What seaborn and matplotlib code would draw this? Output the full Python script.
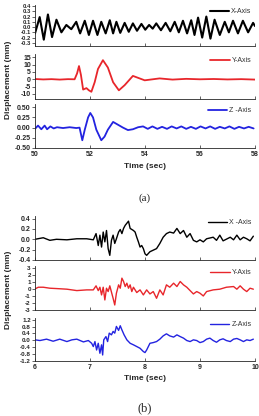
import pandas as pd
import seaborn as sns
import matplotlib.pyplot as plt

# ---- data ----
# (a) 50-58 s
ax_t = [50.00, 50.17, 50.32, 50.47, 50.62, 50.78, 50.96, 51.14, 51.32, 51.50, 51.64, 51.81,
        51.96, 52.11, 52.27, 52.41, 52.57, 52.72, 52.84, 52.96, 53.10, 53.26, 53.41, 53.56,
        53.71, 53.87, 54.01, 54.15, 54.28, 54.41, 54.58, 54.75, 54.92, 55.08, 55.23, 55.38,
        55.53, 55.68, 55.80, 55.93, 56.08, 56.23, 56.38, 56.53, 56.72, 56.90, 57.05, 57.20,
        57.38, 57.56, 57.75, 57.93, 58.00]
ax_v = [-0.12, 0.19, -0.24, 0.24, -0.19, 0.14, -0.10, 0.04, -0.04, 0.10, -0.12, 0.12,
        -0.15, 0.12, -0.15, 0.10, -0.12, 0.13, -0.12, 0.10, -0.11, 0.08, -0.09, 0.07,
        -0.07, 0.06, -0.05, 0.04, -0.03, 0.07, -0.06, 0.08, -0.08, 0.10, -0.10, 0.12,
        -0.12, 0.13, -0.15, 0.18, -0.20, 0.20, -0.22, 0.14, -0.15, 0.10, -0.10, 0.12,
        -0.12, 0.12, -0.10, 0.08, 0.02]

ay_t = [50.0, 50.3, 50.6, 50.9, 51.2, 51.44, 51.53, 51.60, 51.67, 51.75, 51.87, 51.96, 52.05,
        52.17, 52.29, 52.47, 52.65, 52.84, 53.05, 53.26, 53.56, 53.99, 54.53, 55.0, 55.5,
        56.0, 56.5, 57.0, 57.5, 58.0]
ay_v = [0.2, -0.1, 0.1, -0.2, 0.1, 0.0, 4.0, 9.0, 3.0, -7.0, -6.0, -7.5, -8.5,
        -2.0, 7.0, 13.0, 8.0, -2.0, -7.5, -4.0, 2.3, -0.7, 0.6, -0.2, 0.3,
        0.0, 0.2, -0.1, 0.1, -0.2]

az_t = [50.00, 50.11, 50.23, 50.35, 50.44, 50.56, 50.68, 50.80, 51.02, 51.26, 51.50, 51.62,
        51.72, 51.81, 51.93, 52.01, 52.11, 52.23, 52.41, 52.53, 52.65, 52.84, 53.02, 53.20,
        53.38, 53.56, 53.75, 53.93, 54.10, 54.27, 54.45, 54.62, 54.80, 54.97, 55.15, 55.32,
        55.50, 55.67, 55.85, 56.02, 56.20, 56.37, 56.55, 56.72, 56.90, 57.07, 57.25, 57.42,
        57.60, 57.77, 57.95]
az_v = [-0.03, 0.05, -0.04, 0.05, -0.04, 0.03, -0.02, 0.01, -0.01, 0.01, -0.01, 0.00,
        -0.31, -0.05, 0.25, 0.36, 0.25, -0.05, -0.31, -0.22, -0.05, 0.14, 0.07, 0.00,
        -0.06, -0.04, 0.01, 0.03, -0.03, 0.03, -0.03, 0.02, -0.03, 0.03, -0.02, 0.03,
        -0.03, 0.02, -0.03, 0.03, -0.02, 0.03, -0.03, 0.02, -0.02, 0.03, -0.03, 0.02,
        -0.02, 0.02, -0.02]

# (b) 6-10 s
bx_t = [6.00, 6.15, 6.27, 6.39, 6.58, 6.76, 6.94, 7.06,
        7.11, 7.15, 7.18, 7.21, 7.24, 7.27, 7.30, 7.33, 7.36, 7.39, 7.42, 7.45, 7.48, 7.52,
        7.55, 7.58, 7.61, 7.64, 7.67, 7.70, 7.73, 7.76, 7.79, 7.82, 7.85, 7.88, 7.91, 7.94,
        7.97, 8.00, 8.03,
        8.09, 8.15, 8.21, 8.27, 8.33, 8.39, 8.45, 8.52, 8.58, 8.64, 8.70, 8.76, 8.82, 8.88,
        8.94, 9.00, 9.06, 9.12, 9.24, 9.30, 9.36, 9.42, 9.55, 9.61, 9.67, 9.73, 9.79, 9.85,
        9.91, 9.97]
bx_v = [0.00, 0.03, -0.02, 0.00, -0.01, 0.01, 0.01, -0.01,
        0.11, -0.12, 0.08, -0.15, 0.14, -0.05, 0.17, -0.18, -0.31, -0.02, 0.08, -0.08, 0.01, 0.14,
        0.19, 0.11, 0.21, 0.27, 0.31, 0.35, 0.21, 0.19, 0.17, 0.14, 0.04, -0.05, -0.15, -0.12,
        -0.18, -0.28, -0.31,
        -0.24, -0.21, -0.18, -0.08, 0.04, 0.11, 0.14, 0.12, 0.21, 0.11, 0.17, 0.04, 0.11, -0.02,
        -0.05, -0.01, -0.05, 0.01, 0.04, -0.02, 0.08, -0.03, 0.04, -0.01, 0.08, -0.01, 0.04, 0.01,
        -0.03, 0.06]

by_t = [6.00, 6.06, 6.15, 6.27, 6.39, 6.58, 6.76, 6.94, 7.06,
        7.11, 7.15, 7.18, 7.21, 7.24, 7.27, 7.30, 7.33, 7.36,
        7.42, 7.45, 7.48, 7.52, 7.55, 7.58, 7.61, 7.64, 7.67, 7.70, 7.73, 7.76, 7.79,
        7.85, 7.91, 7.97, 8.03, 8.09, 8.15, 8.21, 8.27, 8.33, 8.39, 8.45, 8.52, 8.58, 8.64,
        8.70, 8.76, 8.82, 8.88, 8.94, 9.00, 9.06, 9.12,
        9.24, 9.36, 9.48, 9.61, 9.67, 9.73, 9.79, 9.85, 9.91, 9.97]
by_v = [0.02, 0.26, 0.26, 0.12, 0.07, -0.02, -0.22, -0.12, -0.12,
        0.46, -0.22, 0.26, -0.84, 0.26, -1.56, 0.12, -0.36, 0.46,
        -1.32, -2.28, -0.60, 0.60, 0.12, 1.56, 1.08, 0.36, 0.84, 0.12, 0.60, -0.36, 0.26,
        -0.50, -0.12, -0.84, -0.12, -0.70, -0.36, -1.32, -0.12, -0.84, 0.60, 0.26, 0.84, 0.36, 1.08,
        0.60, 0.26, -0.22, -0.70, -0.36, -0.60, -0.99, -0.36,
        -0.12, -0.02, 0.26, 0.36, -0.02, 0.46, -0.02, -0.36, 0.12, -0.02]

bz_t = [6.00, 6.09, 6.21, 6.33, 6.45, 6.58, 6.67, 6.76, 6.88, 6.97,
        7.03, 7.06, 7.09, 7.12, 7.15, 7.18, 7.21, 7.23, 7.25, 7.29,
        7.32, 7.35, 7.39, 7.42, 7.45, 7.48, 7.52, 7.55, 7.58, 7.62,
        7.67, 7.73, 7.79, 7.85, 7.91, 7.97, 8.00, 8.03,
        8.09, 8.15, 8.21, 8.27, 8.33, 8.39, 8.45, 8.52, 8.58, 8.64,
        8.70, 8.76, 8.82, 8.88, 8.94, 9.00, 9.06, 9.12, 9.18, 9.24,
        9.30, 9.36, 9.42, 9.48, 9.55, 9.61, 9.67, 9.73, 9.79, 9.85,
        9.91, 9.97]
bz_v = [0.03, -0.01, 0.07, -0.05, 0.07, -0.07, 0.03, 0.07, -0.09, -0.01,
        -0.17, -0.36, -0.07, -0.56, -0.17, -0.75, -0.26, -0.85, 0.03, 0.22,
        -0.07, 0.42, 0.32, 0.52, 0.42, 0.81, 0.58, 0.85, 0.61, 0.32,
        0.03, -0.17, -0.26, -0.36, -0.46, -0.65, -0.71, -0.56,
        -0.17, -0.13, -0.07, 0.07, 0.26, 0.38, 0.26, 0.19, 0.32, 0.22,
        0.13, -0.01, -0.07, 0.03, -0.01, -0.13, -0.07, 0.07, 0.13, -0.01,
        -0.11, 0.03, 0.09, -0.01, -0.07, 0.07, 0.11, 0.03, -0.07, 0.03,
        -0.01, 0.07]

a_xticks = [50, 52, 54, 56, 58]
b_xticks = [6, 7, 8, 9, 10]

# ---- style ----
sns.set_style('ticks')
plt.rcParams['font.family'] = ['Liberation Sans', 'DejaVu Sans']
plt.rcParams['font.weight'] = 'bold'
plt.rcParams['axes.linewidth'] = 0.6

W, H = 259, 416
fig = plt.figure(figsize=(W / 100, H / 100), dpi=100)


def panel(top, bottom, t, v, color, label, ylim, yticks, fmt, xlim, xticks, lw, show_x, ysize=5):
    ax = fig.add_axes([35 / W, 1 - bottom / H, 220 / W, (bottom - top) / H])
    df = pd.DataFrame({'t': t, 'v': v})
    sns.lineplot(data=df, x='t', y='v', color=color, lw=lw, label=label,
                 estimator=None, ax=ax)
    for ln in ax.lines:
        ln.set_solid_joinstyle('round')
    ax.set_xlim(*xlim)
    ax.set_ylim(*ylim)
    ax.set_yticks(yticks)
    ax.set_yticklabels([fmt.format(y) for y in yticks])
    ax.set_xticks(xticks)
    if show_x:
        ax.set_xticklabels([str(x) for x in xticks])
    else:
        ax.set_xticklabels([])
    ax.set_xlabel('')
    ax.set_ylabel('')
    sns.despine(ax=ax)
    ax.tick_params(axis='y', labelsize=ysize, length=2, width=0.5, pad=1)
    ax.tick_params(axis='x', labelsize=5, length=2.5, width=0.5, pad=2, direction='in')
    leg = ax.legend(loc='upper right', frameon=False, fontsize=5, handlelength=2.8,
                    handletextpad=0.3, borderaxespad=0.1)
    for txt in leg.get_texts():
        txt.set_color('#333333')
        txt.set_fontweight('normal')
    return ax


# (a)
panel(5, 46, ax_t, ax_v, 'black', 'X-Axis', (-0.36, 0.42),
      [0.4, 0.3, 0.2, 0.1, 0.0, -0.1, -0.2, -0.3], '{:.1f}', (50, 58), a_xticks, 1.5, False, 4.2)
panel(54, 98.7, ay_t, ay_v, '#e8262b', 'Y-Axis', (-13.2, 17.2),
      [15, 10, 5, 0, -5, -10], '{:d}', (50, 58), a_xticks, 1.3, False)
panel(104, 148, az_t, az_v, '#2323e0', 'Z -Axis', (-0.5, 0.58),
      [0.5, 0.25, 0.0, -0.25, -0.5], '{:.2f}', (50, 58), a_xticks, 1.3, True)

# (b)
panel(216, 260, bx_t, bx_v, 'black', 'X -Axis', (-0.4, 0.45),
      [0.4, 0.2, 0.0, -0.2, -0.4], '{:.1f}', (6, 10), b_xticks, 1.0, False)
panel(266, 310, by_t, by_v, '#e8262b', 'Y-Axis', (-3, 3.3),
      [3, 2, 1, 0, -1, -2, -3], '{:d}', (6, 10), b_xticks, 1.0, False, 4.5)
panel(318, 361, bz_t, bz_v, '#2323e0', 'Z-Axis', (-1.2, 1.3),
      [1.2, 0.8, 0.4, 0.0, -0.4, -0.8, -1.2], '{:.1f}', (6, 10), b_xticks, 1.0, True, 4.5)

# shared labels
for yc in (80, 290):
    fig.text(9 / W, 1 - yc / H, 'Displacement (mm)', rotation=90, ha='center', va='center',
             fontsize=6, fontweight='bold')
fig.text(145 / W, 1 - 167 / H, 'Time (sec)', ha='center', va='center', fontsize=6, fontweight='bold')
fig.text(145 / W, 1 - 379 / H, 'Time (sec)', ha='center', va='center', fontsize=6, fontweight='bold')
fig.text(145 / W, 1 - 198 / H, '(a)', ha='center', va='center', fontsize=8,
         family='Liberation Serif', fontweight='normal')
fig.text(145 / W, 1 - 408 / H, '(b)', ha='center', va='center', fontsize=9,
         family='Liberation Serif', fontweight='normal')

fig.savefig('out.png', dpi=100)
